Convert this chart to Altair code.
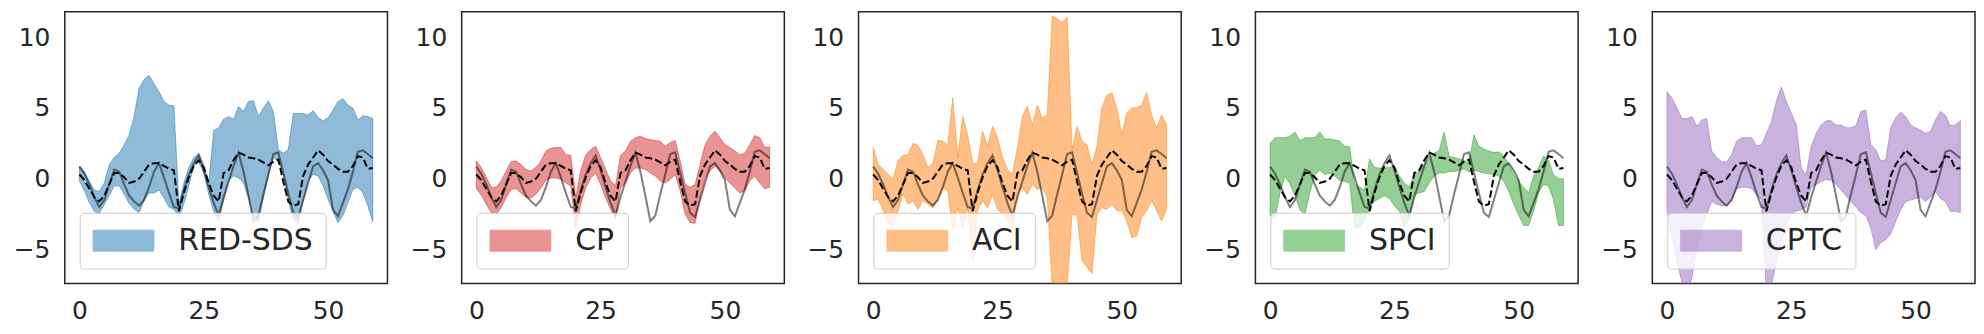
import altair as alt
import pandas as pd

t = list(range(60))

true_vals = [0.85, 0.35, -0.4, -1.3, -2.0, -1.5, -0.4, 0.65, 0.5, -0.4,
             -1.2, -1.6, -1.9, -1.5, -0.6, 0.5, 1.1, 0.1, -1.0, -2.0,
             -2.1, -0.8, 0.3, 1.1, 1.65, 0.6, -0.6, -1.7, -2.6, -1.3,
             -0.2, 0.9, 1.85, 0.5, -1.2, -3.0, -2.6, -1.1, 0.3, 1.75,
             1.87, 0.4, -1.0, -2.4, -2.7, -1.5, -0.3, 0.87, 1.1, 0.6,
             -0.1, -2.2, -2.65, -1.7, -0.75, 0.5, 1.9, 2.0, 1.75, 1.45]

pred_vals = [0.3, -0.1, -0.7, -1.3, -1.6, -1.2, -0.4, 0.4, 0.4, 0.1,
             -0.3, -0.2, 0.0, 0.5, 1.0, 1.1, 1.1, 0.9, 0.7, 0.6,
             -2.3, -1.0, 0.1, 0.9, 1.3, 0.8, -0.3, -1.2, -1.6, 0.4,
             0.6, 1.3, 1.85, 1.7, 1.5, 1.45, 1.35, 1.15, 0.95, 1.2,
             1.35, -0.2, -1.6, -1.9, -1.8, 0.2, 1.0, 1.5, 2.0, 1.7,
             1.25, 1.0, 0.7, 0.5, 0.5, 0.9, 1.6, 1.5, 0.7, 0.75]

methods = ["RED-SDS", "CP", "ACI", "SPCI", "CPTC"]
colors = ["#1f77b4", "#d62728", "#ff7f0e", "#2ca02c", "#9467bd"]

red_hi = [0.9, 0.5, -0.2, -0.8, -0.9, -0.3, 1.0, 1.5, 1.8, 2.4,
          3.1, 4.4, 6.4, 7.0, 7.3, 6.7, 6.15, 5.45, 5.2, 5.15,
          -1.8, -0.3, 0.8, 1.5, 1.8, 1.0, -0.3, 3.4, 3.6, 4.2,
          4.4, 4.2, 5.1, 4.75, 5.45, 5.5, 4.4, 5.0, 5.5, 4.75,
          2.05, 1.8, 2.05, 4.6, 4.6, 4.6, 4.5, 4.8, 4.3, 4.1,
          4.3, 4.85, 5.45, 5.65, 5.2, 5.0, 4.15, 4.45, 4.4, 4.25]
red_lo = [-0.15, -0.85, -1.7, -2.3, -2.45, -1.8, -1.2, -0.5, -0.5, -1.1,
          -1.75, -2.15, -2.4, -1.55, -1.0, -1.0, -0.8, -1.35, -2.0, -2.15,
          -2.75, -1.8, -0.5, 0.9, 1.2, 0.4, -1.1, -2.3, -3.0, -1.55,
          -0.15, 0.2, 0.05, -0.3, -1.35, -2.75, -3.0, -1.35, 0.3, 1.5,
          1.3, 0.3, -1.55, -2.85, -3.2, -1.55, -0.15, 0.3, 0.2, -0.5,
          -1.45, -2.3, -3.1, -2.6, -1.7, -0.75, -0.6, -1.0, -1.9, -3.05]

cp_hi = [1.25, 0.8, 0.1, -0.6, -0.6, -0.15, 0.55, 1.2, 1.25, 1.0,
         0.65, 0.55, 0.8, 1.25, 1.95, 2.15, 2.2, 2.2, 1.7, 1.65,
         -1.35, 0.55, 1.7, 2.05, 2.3, 1.5, 0.65, -0.15, -0.5, 1.65,
         1.95, 2.65, 2.9, 3.0, 2.85, 2.75, 2.7, 2.65, 2.3, 2.55,
         2.7, 1.25, -0.4, -0.6, -0.4, 1.0, 2.4, 3.0, 3.35, 2.9,
         2.4, 2.2, 1.95, 1.7, 1.8, 2.4, 3.05, 2.9, 2.2, 2.25]
cp_lo = [-0.7, -1.15, -1.8, -2.4, -2.5, -2.05, -1.35, -0.75, -0.7, -1.0,
         -1.3, -1.35, -1.1, -0.65, -0.1, 0.05, 0.05, -0.05, -0.3, -0.5,
         -3.55, -1.8, -0.65, 0.05, 0.4, -0.4, -1.35, -2.15, -2.85, -0.65,
         -0.3, 0.4, 0.75, 0.75, 0.65, 0.4, 0.2, -0.15, -0.3, -0.05,
         0.3, -0.85, -2.5, -3.1, -3.15, -1.35, 0.05, 0.55, 0.9, 0.55,
         0.05, -0.3, -0.65, -1.0, -0.85, -0.15, 0.2, -0.3, -0.7, -0.6]

aci_hi = [2.2, 1.0, 0.65, 0.3, 0.0, 1.25, 1.65, 1.7, 2.5, 2.35,
          1.7, 0.8, 1.1, 2.7, 2.65, 2.4, 5.7, 1.5, 4.4, 3.1,
          1.1, 1.1, 3.35, 2.3, 3.7, 2.9, 1.5, 0.65, 0.3, 2.2,
          4.4, 5.1, 3.8, 5.2, 4.3, 4.5, 11.5, 11.3, 11.05, 11.4,
          2.05, 3.7, 2.65, 2.4, 1.0, 2.3, 5.0, 5.9, 6.05, 5.0,
          3.1, 4.65, 5.0, 5.0, 5.2, 6.1, 4.5, 3.6, 4.5, 3.8]
aci_lo = [-1.55, -1.45, -2.25, -3.2, -3.3, -2.25, -1.1, -1.8, -1.55, -2.15,
          -1.55, -1.8, -2.05, -1.45, -0.65, -0.85, -3.65, -2.05, -3.45, -2.05,
          -5.8, -2.25, -1.55, -2.05, -1.1, -2.15, -2.5, -3.0, -3.45, -1.1,
          -0.65, -1.1, -0.4, -0.75, -0.65, -1.3, -7.6, -8.6, -8.1, -7.6,
          -2.5, -2.6, -5.8, -6.25, -6.7, -2.5, -2.05, -2.15, -1.8, -2.25,
          -2.25, -3.0, -4.15, -4.05, -2.75, -2.25, -1.55, -2.25, -3.0, -2.15]

spci_hi = [2.5, 2.9, 2.9, 2.9, 3.0, 3.3, 2.7, 2.9, 2.9, 2.9,
           3.3, 2.8, 2.8, 2.75, 2.65, 2.3, 2.25, -0.4, -0.6, -0.8,
           1.4, 0.8, 0.75, 0.75, 0.8, 0.9, 0.2, -0.3, -0.6, 0.3,
           0.55, 1.0, 1.5, 1.8, 2.0, 3.3, 1.6, 1.5, 1.4, 1.3,
           1.1, 3.1, 2.3, 2.1, 1.95, 1.85, 1.9, 1.6, 1.0, 0.3,
           -0.2, -0.6, -1.0, 0.2, 0.8, 1.6, 1.3, 0.3, 0.0, 0.0]
spci_lo = [-2.6, -2.8, -1.0, 0.2, -0.4, -1.2, -2.2, -2.5, -1.0, 0.3,
           0.6, 0.3, 0.4, 0.2, -0.1, -0.2, -0.3, -3.5, -3.4, -3.0,
           -2.0, -1.6, -1.4, -1.2, -1.4, -1.9, -2.3, -3.4, -2.8, -1.1,
           -1.0, -0.9, -0.3, 0.2, 0.4, 0.4, 0.5, 0.5, 0.6, 0.7,
           0.5, 0.6, 0.5, 0.4, 0.35, 0.3, 0.2, -0.2, -0.9, -1.8,
           -2.6, -3.3, -3.3, -2.3, -1.0, -0.4, -0.5, -1.5, -3.3, -3.3]

cptc_hi = [6.15, 5.7, 5.0, 4.25, 4.25, 4.4, 3.7, 4.15, 4.25, 1.95,
           1.5, 1.2, 1.2, 1.7, 2.65, 2.9, 2.9, 2.9, 2.35, 2.4,
           3.2, 4.05, 5.45, 6.5, 5.45, 4.65, 3.8, 0.75, 0.3, 2.3,
           3.2, 3.8, 4.1, 4.1, 3.8, 3.8, 3.6, 3.6, 3.75, 4.75,
           4.85, 2.4, 2.05, 1.25, 1.35, 3.6, 4.3, 4.7, 4.4, 3.8,
           3.6, 3.45, 3.2, 3.35, 4.15, 4.75, 4.5, 3.75, 3.8, 4.1]
cptc_lo = [-2.2, -4.0, -5.8, -7.3, -8.0, -7.0, -5.0, -3.5, -2.5, -1.6,
           -1.8, -1.9, -1.9, -1.5, -0.7, -0.6, -0.6, -0.7, -1.1, -1.5,
           -8.0, -7.5, -6.0, -4.5, -3.2, -2.5, -2.3, -2.2, -2.0, -0.6,
           -0.4, -0.2, -0.05, -0.1, -0.4, -0.8, -1.2, -1.6, -2.0, -2.4,
           -2.6, -3.5, -5.0, -4.5, -4.3, -3.9, -3.0, -2.2, -1.6, -1.5,
           -1.4, -1.3, -1.6, -1.3, -0.9, -1.4, -1.6, -2.3, -2.3, -2.4]

bands = [(red_lo, red_hi), (cp_lo, cp_hi), (aci_lo, aci_hi),
         (spci_lo, spci_hi), (cptc_lo, cptc_hi)]

X_DOMAIN = [-2.95, 61.95]
Y_DOMAIN = [-7.4, 11.8]
TEXT = "#262626"


def xenc():
    return alt.X("t:Q", scale=alt.Scale(domain=X_DOMAIN, nice=False, zero=False),
                 axis=alt.Axis(values=[0, 25, 50], title=None, labelPadding=15))


def yenc(field):
    return alt.Y(field, scale=alt.Scale(domain=Y_DOMAIN, nice=False, zero=False),
                 axis=alt.Axis(values=[-5, 0, 5, 10], title=None, labelPadding=15))


def panel(name, color, lo, hi):
    df = pd.DataFrame({"t": t, "lo": lo, "hi": hi, "truth": true_vals,
                       "pred": pred_vals, "method": [name] * len(t)})
    base = alt.Chart(df)
    band = base.mark_area(clip=True, fillOpacity=0.5, stroke=color,
                          strokeOpacity=0.5, strokeWidth=1).encode(
        x=xenc(), y=yenc("lo:Q"), y2="hi:Q",
        fill=alt.Fill("method:N",
                      scale=alt.Scale(domain=[name], range=[color]),
                      legend=alt.Legend(
                          title=None, orient="bottom-left", offset=15,
                          padding=13, fillColor="rgba(255,255,255,0.8)",
                          strokeColor="#cccccc", cornerRadius=4,
                          labelFontSize=30, labelColor=TEXT, labelLimit=400,
                          symbolType="M-2.905,-1H2.905V1H-2.905Z",
                          symbolSize=441, symbolOffset=16, labelOffset=40,
                          symbolOpacity=0.5, symbolStrokeColor=color,
                          symbolStrokeWidth=1)))
    truth = base.mark_line(clip=True, color="black", opacity=0.5,
                           strokeWidth=2).encode(x=xenc(), y=yenc("truth:Q"))
    pred = base.mark_line(clip=True, color="black", strokeWidth=2,
                          strokeDash=[7.4, 3.2]).encode(x=xenc(), y=yenc("pred:Q"))
    return alt.layer(band, truth, pred).properties(width=324, height=273)


panels = [panel(m, c, lo, hi) for m, c, (lo, hi) in zip(methods, colors, bands)]

chart = alt.hconcat(*panels, spacing=20.5).resolve_scale(
    fill="independent").properties(
    padding={"left": 4, "top": 2, "right": 0, "bottom": 0}
).configure(font="DejaVu Sans").configure_axis(
    labelFont="DejaVu Sans", labelFontSize=25, labelColor=TEXT,
    ticks=False, domain=False, grid=False
).configure_legend(labelFont="DejaVu Sans").configure_view(
    stroke=TEXT, strokeWidth=1.5)

chart.save("out.html", embed_options={"renderer": "svg", "actions": False})
